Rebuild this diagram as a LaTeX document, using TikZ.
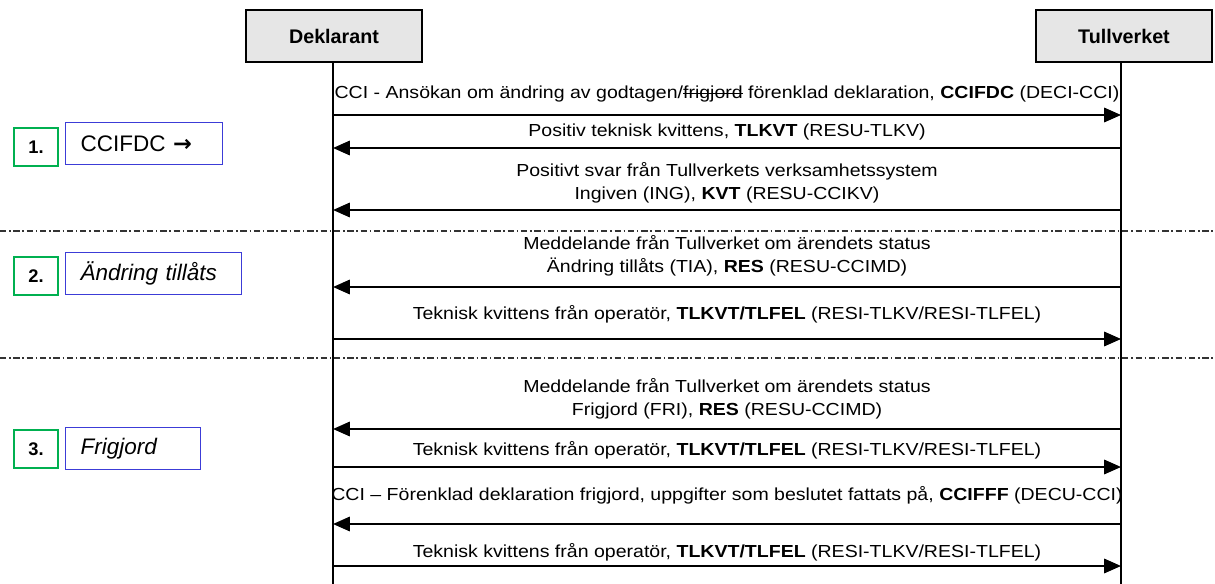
\documentclass[tikz,border=0pt]{standalone}
\usepackage{fontspec}
\setmainfont{Liberation Sans}
\newfontfamily\msgfont[FakeStretch=1.12, Ligatures=TeX]{Liberation Sans}
\newfontfamily\arrowfont{DejaVu Sans}
\usetikzlibrary{arrows.meta, positioning}
\definecolor{stepgreen}{RGB}{0,176,80}
\definecolor{stepblue}{RGB}{60,60,215}
\definecolor{headgray}{RGB}{230,230,230}
\newlength{\strikelen}
\newcommand{\strikeout}[1]{\settowidth{\strikelen}{#1}\rlap{\rule[0.3em]{\strikelen}{0.5pt}}#1}

\begin{document}
\begin{tikzpicture}[x=0.025cm, y=-0.025cm,
    every node/.style={font=\msgfont\fontsize{12.4}{16.3}\selectfont},
    actor/.style={draw, line width=1.4pt, fill=headgray, minimum width=4.4cm, minimum height=1.3cm, font=\rmfamily\fontsize{14}{16}\selectfont\bfseries},
    lifeline/.style={line width=0.9pt},
    msg/.style={line width=1.3pt, -{Triangle[length=0.42cm, width=0.36cm]}},
    sep/.style={line width=0.9pt, black!80, dash pattern=on 4.5pt off 2pt on 1pt off 2pt},
    numbox/.style={draw=stepgreen, line width=1.4pt, minimum width=1.1cm, minimum height=0.95cm, font=\rmfamily\fontsize{13}{15}\selectfont\bfseries},
    phasebox/.style={draw=stepblue, line width=1pt, anchor=west, minimum height=1.05cm, inner xsep=0.375cm, align=left, font=\rmfamily\fontsize{16}{18}\selectfont}]
    \useasboundingbox (0,0) rectangle (1215,584);

    % actors and lifelines
    \node[actor] (dek) at (334,36) {Deklarant};
    \node[actor] (tul) at (1124,36) {Tullverket};
    \coordinate (dektop) at (333,62);
    \coordinate (dekbot) at (333,584);
    \coordinate (tultop) at (1121,62);
    \coordinate (tulbot) at (1121,584);
    \draw[lifeline] (dektop) -- (dekbot);
    \draw[lifeline] (tultop) -- (tulbot);

    % messages
    \foreach \i/\y/\from/\to in {1/115/d/t, 2/148/t/d, 3/210/t/d, 4/287/t/d, 5/339/d/t,
                                 6/429/t/d, 7/467/d/t, 8/524/t/d, 9/566/d/t} {
        \coordinate (d\i) at (333,\y);
        \coordinate (t\i) at (1121,\y);
        \draw[msg] (\from\i) -- (\to\i);
    }

    \node (lbl1) at (727,94) {CCI - Ansökan om ändring av godtagen/\strikeout{frigjord} förenklad deklaration, \textbf{CCIFDC} (DECI-CCI)};
    \node (lbl2) at (727,132) {Positiv teknisk kvittens, \textbf{TLKVT} (RESU-TLKV)};
    \node[align=center] (lbl3) at (727,183) {Positivt svar från Tullverkets verksamhetssystem\\Ingiven (ING), \textbf{KVT} (RESU-CCIKV)};
    \node[align=center] (lbl4) at (727,256) {Meddelande från Tullverket om ärendets status\\Ändring tillåts (TIA), \textbf{RES} (RESU-CCIMD)};
    \node (lbl5) at (727,314) {Teknisk kvittens från operatör, \textbf{TLKVT/TLFEL} (RESI-TLKV/RESI-TLFEL)};
    \node[align=center] (lbl6) at (727,399) {Meddelande från Tullverket om ärendets status\\Frigjord (FRI), \textbf{RES} (RESU-CCIMD)};
    \node (lbl7) at (727,450) {Teknisk kvittens från operatör, \textbf{TLKVT/TLFEL} (RESI-TLKV/RESI-TLFEL)};
    \node (lbl8) at (727,495) {CCI – Förenklad deklaration frigjord, uppgifter som beslutet fattats på, \textbf{CCIFFF} (DECU-CCI)};
    \node (lbl9) at (727,552) {Teknisk kvittens från operatör, \textbf{TLKVT/TLFEL} (RESI-TLKV/RESI-TLFEL)};

    % phase separators
    \draw[sep] (0,231) -- (1215,231);
    \draw[sep] (0,358) -- (1215,358);

    % phases
    \node[numbox] (num1) at (36,147) {1.};
    \node[phasebox, text width=3.175cm] (phase1) at (65,143.5) {CCIFDC {\arrowfont\bfseries →}};
    \node[numbox] (num2) at (36,276) {2.};
    \node[phasebox, text width=3.65cm] (phase2) at (65,273.5) {\itshape Ändring tillåts};
    \node[numbox] (num3) at (36,449) {3.};
    \node[phasebox, text width=2.625cm] (phase3) at (65,448.5) {\itshape Frigjord};
\end{tikzpicture}
\end{document}
